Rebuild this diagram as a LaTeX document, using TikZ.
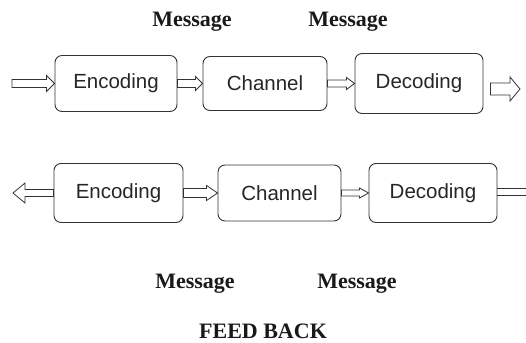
\documentclass[tikz,border=0pt]{standalone}
\usepackage{fontspec}
\setmainfont{Liberation Serif}
\newfontfamily\boxfont{Liberation Sans}
\usetikzlibrary{calc}
\begin{document}
\begin{tikzpicture}[x=1pt,y=-1pt,
  box/.style={draw=black!80, line width=0.9pt, rounded corners=7pt,
    font=\boxfont\fontsize{20.5}{24}\selectfont, text=black!85, inner sep=0pt},
  lbl/.style={font=\bfseries\fontsize{22}{26}\selectfont, text=black!90, inner sep=0pt},
  fat/.style n args={3}{draw=black!80, line width=0.8pt, fill=white,
    to path={($(\tikztostart)+(0,#1)$)
      -- ($(\tikztotarget)!#3!(\tikztostart)+(0,#1)$)
      -- ($(\tikztotarget)!#3!(\tikztostart)+(0,#2)$)
      -- (\tikztotarget)
      -- ($(\tikztotarget)!#3!(\tikztostart)+(0,-#2)$)
      -- ($(\tikztotarget)!#3!(\tikztostart)+(0,-#1)$)
      -- ($(\tikztostart)+(0,-#1)$) -- cycle}},
  shaftline/.style={draw=black!80, line width=0.8pt}]
\useasboundingbox (0,0) rectangle (526,342);

% row 1
\node[box, minimum width=122pt, minimum height=56pt] (enc1) at (116,83.5) {Encoding};
\node[box, minimum width=124pt, minimum height=54pt] (chan1) at (265,83.5) {Channel};
\node[box, minimum width=128pt, minimum height=60pt] (dec1) at (419,83.5) {Decoding};
\coordinate (in1) at (12,83.5);
\coordinate (o1) at (520,89);

\draw[fat={4}{8}{8pt}] (in1) to (enc1.west);
\draw[fat={4}{7}{7pt}] (enc1.east) to (enc1.east -| chan1.west);
\draw[fat={3.5}{6}{8pt}] (chan1.east) to (chan1.east -| dec1.west);
\draw[fat={6}{12}{10pt}] ($(dec1.east |- o1)+(7,0)$) to (o1);

% row 2
\node[box, minimum width=129pt, minimum height=59pt] (enc2) at (118.5,193) {Encoding};
\node[box, minimum width=123pt, minimum height=56pt] (chan2) at (279.5,193) {Channel};
\node[box, minimum width=128pt, minimum height=59pt] (dec2) at (433,193) {Decoding};
\coordinate (l2) at (13,193);
\coordinate (r2) at (526,191.5);

\draw[fat={3.5}{10}{12pt}] (enc2.west) to (l2);
\draw[fat={4.5}{7.5}{11pt}] (enc2.east) to (enc2.east -| chan2.west);
\draw[fat={3}{5}{9pt}] (chan2.east) to (chan2.east -| dec2.west);
\draw[shaftline] ($(r2)+(0,-3.5)$) -- ($(r2 -| dec2.east)+(0,-3.5)$);
\draw[shaftline] ($(r2)+(0,3.5)$) -- ($(r2 -| dec2.east)+(0,3.5)$);

% labels
\node[lbl] (m1) at (192,22) {Message};
\node[lbl] (m2) at (348,22) {Message};
\node[lbl] (m3) at (195,284) {Message};
\node[lbl] (m4) at (357,284) {Message};
\node[lbl] (fb) at (263,331) {FEED BACK};
\end{tikzpicture}
\end{document}
